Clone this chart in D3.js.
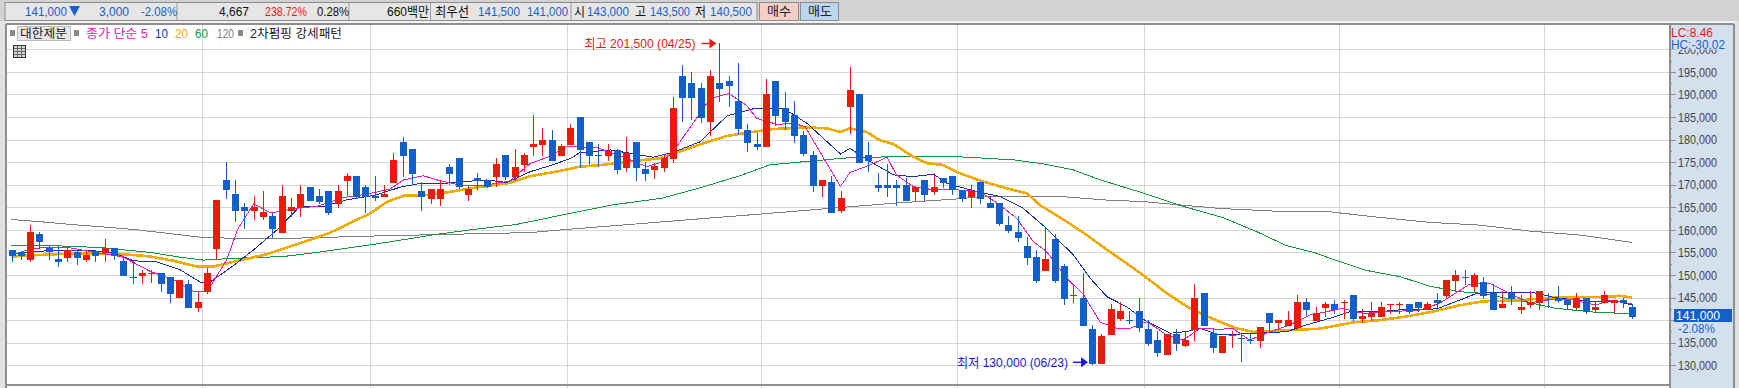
<!DOCTYPE html>
<html lang="ko"><head><meta charset="utf-8">
<style>html,body{margin:0;padding:0;background:#fff;overflow:hidden}svg{display:block}
text{font-family:"Liberation Sans","Noto Sans CJK KR",sans-serif;font-size:13px}</style>
<script src="https://cdn.jsdelivr.net/npm/d3@7/dist/d3.min.js"></script></head><body>
<svg id="c" width="1739" height="388"></svg>
<script>
const open=[155600,155100,153400,159100,156000,153600,153800,155200,153300,155400,154900,156000,153100,149600,149800,150400,150500,149600,144800,148100,142800,146300,155800,171050,168000,165100,164200,162900,163100,159300,164200,164900,169500,167500,168600,165800,170800,171900,169500,167500,167300,170400,179400,177900,168600,166900,166900,173900,175900,167800,171500,171050,171700,176600,171700,174400,178300,178800,179900,176400,178800,185000,179400,176600,176400,177700,173700,179500,173500,173300,173700,175700,194000,192500,191400,183900,192500,192900,188500,182100,179000,178400,192900,187000,185400,181000,176600,169800,170600,164200,187200,190100,176600,170000,170000,170000,170000,168400,171100,168400,171500,172000,168800,167300,170600,165950,165950,161100,159550,156400,154000,150900,158000,152000,145500,144900,138100,130300,136700,140300,139950,142050,138100,135600,132300,136950,134300,137800,146000,137200,132700,136650,136050,135650,135400,141600,139400,138700,138300,144000,139800,142700,143600,144000,145550,140250,140700,140700,143400,143400,143600,144000,142250,144450,145350,148700,149550,147350,148450,146000,142700,146000,142250,143350,143800,144700,144900,144450,142700,144900,142250,143800,143800,144450,142900];
const high=[155600,155100,161100,159500,156400,156400,156400,155600,155600,155600,158000,156000,154300,153100,151200,151200,150500,149600,149000,149000,146500,151600,166650,175000,171050,166000,167500,168600,163800,170000,167100,170000,169500,169100,168600,170000,172600,171900,170000,171900,170000,177000,180500,177900,170600,169100,170800,174600,175900,170000,172600,171050,175900,176600,177900,177000,185400,182500,182100,179000,183400,185000,179400,179000,179000,177900,180600,179500,175000,174800,176600,189400,196500,194900,192500,195400,201500,194000,196900,183400,181500,193400,192900,190500,188500,181900,177500,171100,172000,168650,196000,190100,179500,172600,174600,171100,171500,169500,171100,172600,171500,172000,168800,169950,170600,167500,165950,163100,163100,158400,155600,160400,159100,152500,147600,150500,138950,137000,143600,144000,142050,144900,140050,137600,136950,138050,137600,148000,146000,138050,136500,137600,136700,137150,138500,141600,140050,142050,145550,144900,142900,144000,144500,144500,145550,142450,144000,144000,143600,144000,143600,144000,144000,146000,148900,151100,151100,150450,149550,148000,146450,147550,145550,146450,146450,146000,147550,144500,146000,144900,144250,146450,144450,144900,143600];
const low=[152900,153300,152900,155800,153300,151800,152900,152300,152900,152900,152900,153300,149800,147900,147900,148300,146300,143900,144800,142800,141900,145900,153300,166900,161800,160300,162200,162200,158200,159300,162900,162900,166400,165800,163300,164900,167500,166900,163800,166400,167300,170400,171700,170000,164200,165800,165300,170000,169100,166400,168900,169300,169500,171050,170800,172800,176400,176400,175300,176400,178800,173700,174400,173950,175300,172400,172800,170900,170900,171300,172800,174800,183900,184300,183700,180800,188300,187200,181000,177300,177700,178400,183000,182100,179200,176400,168400,167300,163800,163800,181200,174800,172800,168400,167300,165300,166500,166400,166400,167800,169300,167800,166200,164900,165700,164900,160900,159300,157300,152200,148250,150900,148250,143400,143800,138700,130000,130300,136700,139850,139200,137400,134300,131900,132300,133200,134100,135400,138700,132800,132700,133800,130750,134700,133850,137400,137800,138700,137800,140700,139800,140700,141350,140250,139800,139350,139800,140700,141350,141350,141350,141800,142250,142700,144700,146200,147800,146200,144700,142250,142700,143350,141350,142700,142250,142700,143800,142450,142250,141350,141600,143600,141350,142700,140250];
const close=[154300,154300,159500,157300,155000,152900,155600,153800,154500,154300,156000,154300,149800,149500,150500,150500,147900,145900,149000,142800,144100,150500,166650,168850,164200,164200,165100,164000,160300,167500,165100,168000,166400,166200,163800,168600,171900,167300,167300,167100,168000,175500,176400,172400,167300,169100,169100,172400,169500,169100,170800,169500,174600,171700,173900,176600,179000,179900,175300,178600,182500,177700,176400,176500,177500,173300,177000,173700,172400,174200,175900,187000,189200,189200,184800,194000,191200,191800,182300,179200,178400,190100,185200,183900,180800,176800,169800,171100,163800,167100,191000,174800,175300,169300,169300,169300,166500,169500,167800,169500,170400,168900,166900,168600,166900,164900,161300,159800,158200,153800,148700,153600,148700,144700,145600,138700,130300,136500,142500,142000,139850,138300,134750,132750,136950,134750,135600,144900,138700,133900,136500,136750,136000,135600,138500,139400,140050,140050,144000,142250,141600,143600,142250,144100,140250,140950,141600,142900,143600,143600,141800,142700,143600,143800,148900,150000,149500,150000,145350,142250,143600,144700,142900,144000,146450,144650,144250,143350,144900,141800,142900,145550,144450,143800,140700];

const ma5Idx=[0.6,2.4,5.9,9.5,12,14.9,17.4,19.5,21,23.1,24.3,26,27.8,30.6,32.8,35.6,38.1,40.6,42.1,44.2,45.7,48.5,51,53.5,55.7,57.5,59.6,62.8,66,68.2,70,71.4,73.6,75,77,78.9,80,82.2,84,85.2,87.2,89,90,92.2,94,95,96.8,99,101.6,104,106.1,107.9,109.7,111.1,113.3,115.1,116.9,118.7,120.1,121.9,124,125.8,127.6,129.7,131.1,132.9,134.7,137.2,139.4,142.9,145.1,148,151.2,153.3,156.5,158.7,160.8,163,165.5,167.6,170.1,171.6,174];
const ma5=[154840,155940,156160,154840,153960,150800,148960,146400,146300,153370,160200,165800,163750,164800,165200,167160,167900,169000,171060,172000,171060,169740,169960,170840,174730,176060,178400,178300,175860,174000,175100,178440,184900,189100,190200,187600,184700,183370,183600,182860,175860,169600,172700,174400,176100,172180,169600,168870,168850,168500,165500,162570,157400,155200,149290,145600,139470,138200,138200,139690,136740,135630,138200,137970,138190,135610,137080,138930,141145,142620,141500,141880,142250,143730,147930,148150,145940,143870,144610,144470,143360,144470,143580];
const ma10Idx=[0,2.4,4.2,8.4,10.9,13.1,15.6,18.1,20.3,21.3,23.8,26,28.5,31,33.5,36,39.2,41.7,43.9,46,48.5,51,53.2,55.7,57.8,60,61,64.3,68.9,71.2,73.9,76.8,77.5,79.6,82.9,85.4,89,90,92.2,94.7,96.8,99,100.4,103.6,106.1,108.6,110.8,114,115.8,117.6,119.7,121.6,124.4,126.2,127.6,129.7,133.6,136.9,139,141.5,143.7,146.9,149.7,153,155.5,157.3,159.4,163.3,165.5,169,172.6,174];
const ma10=[154500,155200,155400,155400,155000,153150,152900,151150,148400,148400,152050,155600,160000,165300,165200,166650,167750,169450,170300,170200,170700,171050,170500,172900,174200,175800,177100,177700,176100,177300,179500,185200,185650,186800,186900,183600,176800,178070,175130,172180,171800,172330,170300,168500,167400,164800,160900,154450,149300,145200,143000,140060,137100,137500,138200,136740,137090,137450,138930,140400,141880,141880,142400,142480,144470,145940,146160,146160,145060,144170,144100,143360];
const ma20Idx=[0,3.1,5.9,9.5,13.1,14.9,17.4,19.9,21.7,23.8,27.4,31,34.2,36,38.5,40.3,42.1,43.9,46.4,49.9,53.5,55.7,58.5,61,63.5,66,69.6,71.4,74.3,76.8,78.6,81.8,85.4,87.5,89,90,91.8,93.2,94.7,96.8,98.3,100,101.6,104.3,107.2,109,110.4,113.3,115.4,117.6,119.7,121.6,124,126.2,128,129.7,131.5,133.3,136.1,140.4,142.2,144,146.9,149.7,152.6,155.5,158,161.9,165.5,169,171.9,172.6,174];
const ma20=[154100,154450,154700,154700,154450,154100,153150,151900,151900,152900,154600,157050,159360,161200,163640,166200,167550,167550,168200,169400,170400,171900,172900,174000,174400,175100,175860,177100,179200,180800,181400,182340,182700,182500,181680,182500,181680,179900,179000,176200,174760,174400,172700,170700,169000,168100,165500,161800,158900,155600,152600,149800,146000,143000,141150,139680,138200,137400,137700,138100,138780,139500,140000,140800,141900,143300,144170,144400,145000,145130,145200,145425,145000];
const ma60Idx=[0,4.1,9.5,14.9,18.1,20.6,23.8,29.2,33.5,38.5,41.7,45.6,49.6,54.2,59.6,64.4,69.8,73.8,78.2,81.4,86.1,90,94.7,101.7,107.6,110.8,114,116.9,121.6,125.3,130.1,133.7,136.9,139.8,142.6,145.5,149.1,152.3,155.5,158,160.5,163.3,165.8,168.3,170.5,174];
const ma60=[156600,156530,156090,155000,153950,153300,153700,154100,155200,156680,157700,159000,160100,161200,163500,165500,167000,169240,172000,174400,175300,176000,176200,176200,175500,174600,173270,171060,168100,165500,162680,159585,156490,155010,152940,151000,149620,147500,146300,145940,144840,143730,142620,142100,141660,141500];
const ma120Idx=[0,3.4,6.7,9.5,13.1,16.7,20.6,23.8,30.3,38.5,46.7,55.7,59.6,66.4,73.6,80.4,87.5,94.7,101.8,104.3,112.6,117.6,121.6,125.6,129.7,136.2,141.5,146.9,152.3,157.6,163,168.4,174];
const ma120=[162300,161750,161150,160700,160100,159250,158300,158150,158150,158620,159000,159400,160100,161200,162400,163500,164700,165900,166900,167400,167400,166600,166250,165500,164750,164090,164010,162760,161650,161060,159730,158850,157220];

const monthBreaks=[20.5,38.5,59.6,80.5,101.5,121.6,142.5,164.5];
const yMajor=d3.range(130000,200001,5000);
const yMinor=d3.range(132500,200000,5000);
const maNames=["5","10","20","60","120"];
const hiLabel="최고 201,500 (04/25)", loLabel="최저 130,000 (06/23)";
const hiIndex=76, hiValue=201500, loIndex=116, loValue=130000;
const stockName="대한제분", indicatorLabel="2차펌핑 강세패턴", maLabel="종가 단순 5";
const quoteTexts=[["141,000",25,42,"#1560cc"],["3,000",99,30,"#1560cc"],["-2.08%",141,36,"#1560cc"],["4,667",219,30,"#111"],["238.72%",265,42,"#e81c0c"],["0.28%",317,32,"#111"],["660백만",387,42,"#111"],["최우선",435,34,"#111"],["141,500",478,42,"#1560cc"],["141,000",527,41,"#1560cc"],["시",574,11,"#111"],["143,000",587,42,"#1560cc"],["고",635,11,"#111"],["143,500",650,40,"#1560cc"],["저",695,11,"#111"],["140,500",710,42,"#1560cc"]];
const quoteDividers=[177,349,430.5,571];

const RED="#e81c0c",BLUE="#125fcc",GRID="#d6d6d6",EDGE="#8e8e8e",PANEL="#d5e0ef";
const L=7,R=1670,T=24,B=385;
const svg=d3.select("#c");
const x=d3.scaleLinear().domain([0,174]).range([11.5,1632.3]);
const y=d3.scaleLinear().domain([130000,200000]).range([365.3,49.3]);
const px=v=>Math.round(x(v))+.5, py=v=>Math.round(y(v));
function txt(g,s,xx,w,yy,c,size){const t=g.append("text").attr("x",xx).attr("y",yy).attr("fill",c).attr("dominant-baseline","central").text(s);
 if(size)t.style("font-size",size+"px"); if(w)t.attr("textLength",w).attr("lengthAdjust","spacingAndGlyphs");return t;}

// chrome
svg.append("rect").attr("width",1739).attr("height",388).attr("fill","#fff");
svg.append("rect").attr("width",1739).attr("height",21).attr("fill","#d2d2d2");
svg.append("rect").attr("y",21).attr("width",1739).attr("height",3).attr("fill","#f2f2f2");
svg.append("rect").attr("x",0).attr("y",21).attr("width",6).attr("height",367).attr("fill","#e2e2e2");
svg.append("rect").attr("x",1735).attr("y",21).attr("width",4).attr("height",367).attr("fill","#e2e2e2");

// grid
const plot=svg.append("g");
plot.append("g").attr("transform",`translate(${L},0)`)
 .call(d3.axisRight(y).tickValues(yMajor).tickSize(R-L).tickFormat(""))
 .call(g=>{g.select(".domain").remove();g.selectAll("line").attr("stroke",GRID).attr("shape-rendering","crispEdges");});
plot.append("g").attr("transform",`translate(0,${T})`)
 .call(d3.axisBottom(x).tickValues(monthBreaks).tickSize(388-T).tickFormat(""))
 .call(g=>{g.select(".domain").remove();g.selectAll("line").attr("stroke",GRID).attr("stroke-width",1).attr("shape-rendering","crispEdges");});

// moving averages
const line=d3.line().x(d=>x(d[0])).y(d=>y(d[1]));
[[ma120Idx,ma120,"#7f7f7f",1],[ma60Idx,ma60,"#109a3c",1],[ma20Idx,ma20,"#f0aa00",2.6],[ma10Idx,ma10,"#1a2fb0",1],[ma5Idx,ma5,"#e020b4",1]].forEach(([ix,v,c,w])=>{
 plot.append("path").datum(ix.map((k,i)=>[k,v[i]])).attr("d",line).attr("fill","none").attr("stroke",c).attr("stroke-width",w).attr("shape-rendering","crispEdges");
});

// candles
const candles=open.map((o,i)=>({i,o,h:high[i],l:low[i],c:close[i]}));
const cg=plot.append("g").attr("shape-rendering","crispEdges");
cg.selectAll("line").data(candles).join("line")
 .attr("x1",d=>px(d.i)).attr("x2",d=>px(d.i)).attr("y1",d=>py(d.h)).attr("y2",d=>py(d.l))
 .attr("stroke",d=>d.c>=d.o?RED:BLUE).attr("stroke-width",1);
cg.selectAll("rect").data(candles).join("rect")
 .attr("x",d=>px(d.i)-3.5).attr("width",7)
 .attr("y",d=>py(Math.max(d.o,d.c)))
 .attr("height",d=>Math.max(1,py(Math.min(d.o,d.c))-py(Math.max(d.o,d.c))))
 .attr("fill",d=>d.c>=d.o?RED:BLUE);

// annotations
function arrow(g,xEnd,yy,c){g.append("path").attr("d",`M${xEnd-15},${yy}H${xEnd-6}`).attr("stroke",c).attr("stroke-width",1.4).attr("fill","none");
 g.append("path").attr("d",d3.line()([[xEnd-7,yy-5],[xEnd,yy],[xEnd-7,yy+5]])+"Z").attr("fill",c);}
const an=svg.append("g");
txt(an,hiLabel,x(hiIndex)-135,111,y(hiValue)+1,RED);
arrow(an,x(hiIndex)-3,y(hiValue)+1,RED);
txt(an,loLabel,x(loIndex)-135,111,y(loValue)-3,"#1a1ad8");
arrow(an,x(loIndex)-4,y(loValue)-3,"#1a1ad8");

// frame
svg.append("g").attr("shape-rendering","crispEdges").call(g=>{
 g.append("line").attr("x1",L-1).attr("x2",R).attr("y1",T).attr("y2",T).attr("stroke",EDGE).attr("stroke-width",1.5);
 g.append("line").attr("x1",L-1).attr("x2",R).attr("y1",B).attr("y2",B).attr("stroke",EDGE).attr("stroke-width",1.5);
 g.append("line").attr("x1",L-1).attr("x2",L-1).attr("y1",T).attr("y2",388).attr("stroke",EDGE).attr("stroke-width",1.5);
});

// price panel
svg.append("rect").attr("x",R).attr("y",T).attr("width",1734-R).attr("height",364).attr("fill",PANEL);
const ax=svg.append("g").attr("transform",`translate(${R},0)`);
ax.call(d3.axisRight(y).tickValues(yMajor).tickSize(6).tickPadding(2).tickFormat(v=>v===140000?"":d3.format(",")(v)))
 .call(g=>{g.select(".domain").remove();g.selectAll("line").attr("stroke",EDGE).attr("shape-rendering","crispEdges");
 g.selectAll("text").attr("fill","#444").attr("font-family",null).attr("font-size",null).attr("textLength",39).attr("lengthAdjust","spacingAndGlyphs");});
svg.append("g").attr("transform",`translate(${R},0)`)
 .call(d3.axisRight(y).tickValues(yMinor).tickSize(2).tickFormat(""))
 .call(g=>{g.select(".domain").remove();g.selectAll("line").attr("stroke",EDGE).attr("shape-rendering","crispEdges");});
svg.append("rect").attr("x",R).attr("y",T).attr("width",1734-R).attr("height",25.5).attr("fill",PANEL);
svg.append("g").attr("shape-rendering","crispEdges").call(g=>{
 g.append("line").attr("x1",R).attr("x2",R).attr("y1",T).attr("y2",388).attr("stroke",EDGE).attr("stroke-width",1.5);
 g.append("line").attr("x1",1734).attr("x2",1734).attr("y1",T).attr("y2",388).attr("stroke",EDGE).attr("stroke-width",1.5);
 g.append("line").attr("x1",R).attr("x2",1734).attr("y1",T).attr("y2",T).attr("stroke",EDGE).attr("stroke-width",1.5);
});
txt(svg,"LC:8.46",1671,42,32,"#e81c0c",13);
txt(svg,"HC:-30.02",1671,54,44,"#1560cc",13);
svg.append("rect").attr("x",1674).attr("y",309).attr("width",58).attr("height",13).attr("fill","#125fcc");
txt(svg,"141,000",1676,44,315.5,"#fff",13);
txt(svg,"-2.08%",1678,37,328,"#1560cc");

// toolbar
const tb=svg.append("g");
tb.append("rect").attr("x",5).attr("y",2.5).attr("width",752).attr("height",18).attr("fill","#e6e6e6").attr("stroke","#8c8c8c");
quoteDividers.forEach(d=>tb.append("line").attr("x1",d).attr("x2",d).attr("y1",3).attr("y2",20).attr("stroke","#9a9a9a"));
quoteTexts.forEach(([s,xx,w,c])=>txt(tb,s,xx,w,11.5,c,13));
tb.append("path").attr("d","M69,6H80L74.5,16Z").attr("fill","#1560cc");
[["매수",759,39,"#f5cfc6"],["매도",800,38,"#bcd5ef"]].forEach(([s,xx,w,c])=>{
 tb.append("rect").attr("x",xx+.5).attr("y",2.5).attr("width",w).attr("height",18).attr("fill",c).attr("stroke","#8c8c8c");
 txt(tb,s,xx+8,24,11.5,"#222",12.5);
});

// legend
const lg=svg.append("g");
const dot=xx=>lg.append("rect").attr("x",xx).attr("y",30).attr("width",5).attr("height",6).attr("fill","#8a8a8a");
dot(10);dot(74);dot(238);
lg.append("rect").attr("x",17.5).attr("y",26.5).attr("width",53).attr("height",14).attr("fill","#e8e8e8").attr("stroke","#bbb");
txt(lg,stockName,20,47,33.5,"#222",12.5);
txt(lg,maLabel,86,62,33.5,"#e020b4",12.5);
[[maNames[1],155,13,"#1a2fd0"],[maNames[2],175,13,"#f0aa00"],[maNames[3],195,13,"#109a3c"],[maNames[4],217,17,"#7f7f7f"]].forEach(([s,xx,w,c])=>txt(lg,s,xx,w,33.5,c,12.5));
txt(lg,indicatorLabel,250,92,33.5,"#222",12.5);
const ic=svg.append("g").attr("shape-rendering","crispEdges");
ic.append("rect").attr("x",13.5).attr("y",45.5).attr("width",12).attr("height",12).attr("fill","#d8d8d8").attr("stroke","#333");
[48,51,54].forEach(v=>ic.append("line").attr("x1",14).attr("x2",25).attr("y1",v+.5).attr("y2",v+.5).attr("stroke","#666"));
[17,21].forEach(v=>ic.append("line").attr("x1",v+.5).attr("x2",v+.5).attr("y1",46).attr("y2",57).attr("stroke","#666"));
</script></body></html>
